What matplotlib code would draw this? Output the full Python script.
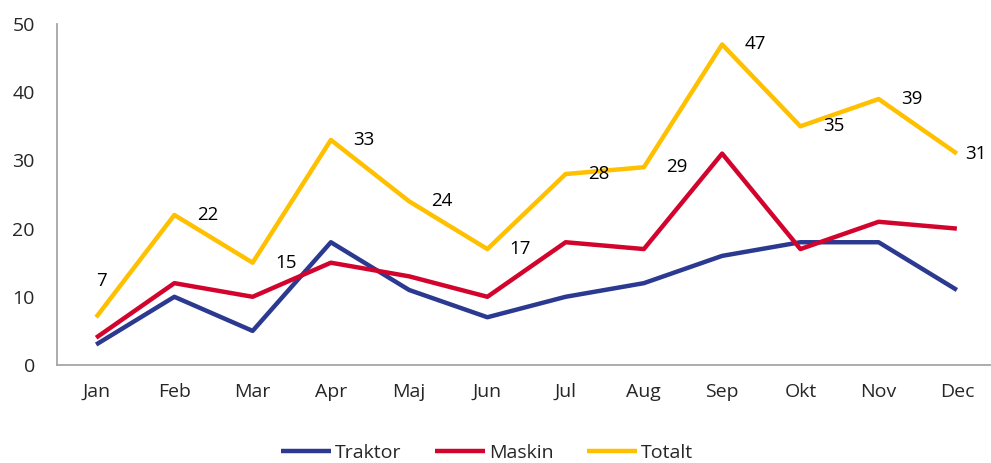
import matplotlib.pyplot as plt

plt.rcParams['font.family'] = ['Open Sans', 'DejaVu Sans']

months = ['Jan', 'Feb', 'Mar', 'Apr', 'Maj', 'Jun', 'Jul', 'Aug', 'Sep', 'Okt', 'Nov', 'Dec']
traktor = [3, 10, 5, 18, 11, 7, 10, 12, 16, 18, 18, 11]
maskin = [4, 12, 10, 15, 13, 10, 18, 17, 31, 17, 21, 20]
totalt = [7, 22, 15, 33, 24, 17, 28, 29, 47, 35, 39, 31]

fig = plt.figure(figsize=(9.91, 4.63), dpi=100)
ax = fig.add_axes([57/991, 98/463, 939/991, 341/463])

x = range(len(months))
ax.plot(x, traktor, color='#2B3990', lw=3.2, label='Traktor', solid_capstyle='butt')
ax.plot(x, maskin, color='#D2042D', lw=3.2, label='Maskin', solid_capstyle='butt')
ax.plot(x, totalt, color='#FFC000', lw=3.2, label='Totalt', solid_capstyle='butt')

# data labels for the total line
for i, v in enumerate(totalt):
    if i == 0:
        off = (5, 36)
    elif i == len(totalt) - 1:
        off = (19, 0)
    else:
        off = (33, 0)
    ax.annotate(str(v), (i, v), xytext=off, textcoords='offset pixels',
                ha='center', va='center', fontsize=13.5, color='#000000')

ax.set_xlim(-0.5, 11.5)
ax.set_ylim(0, 50)
ax.set_yticks(range(0, 51, 10))
ax.set_xticks(list(x))
ax.set_xticklabels(months)
ax.tick_params(length=0, labelsize=14, colors='#262626')
ax.tick_params(axis='y', pad=16)
ax.tick_params(axis='x', pad=13)

for s in ['top', 'right']:
    ax.spines[s].set_visible(False)
for s in ['left', 'bottom']:
    ax.spines[s].set_color('#A6A6A6')
    ax.spines[s].set_linewidth(1.3)

fig.legend(*ax.get_legend_handles_labels(), loc='center',
           bbox_to_anchor=(487/991, 1 - 453/463), ncol=3, frameon=False,
           fontsize=14, handlelength=2.6, handletextpad=0.2, columnspacing=1.7,
           labelcolor='#262626')

fig.savefig('out.png', dpi=100)
